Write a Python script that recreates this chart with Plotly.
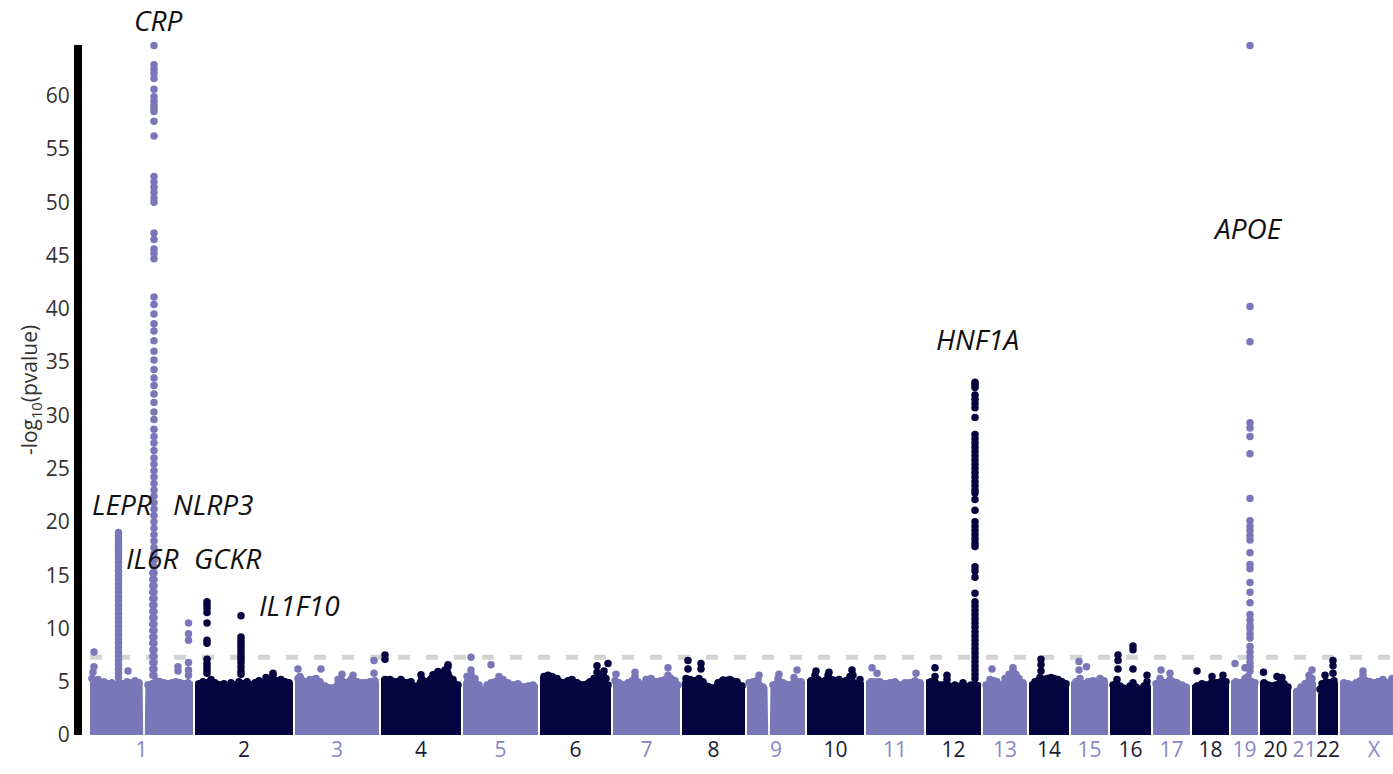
import plotly.graph_objects as go

# ---------------- data ----------------
chrom_names = ["1", "2", "3", "4", "5", "6", "7", "8", "9", "10", "11", "12",
               "13", "14", "15", "16", "17", "18", "19", "20", "21", "22", "X"]
# chromosome spans on the cumulative position axis (units)
chrom_size = [103, 98, 84, 80, 75, 71, 67, 63, 58, 57, 58, 55,
              44, 40, 37, 41, 37, 37, 27, 31, 23, 20, 68]
chrom_gap = 2

# upper envelope of the dense background SNP cloud (-log10 p), per chromosome
profile_pos = [
    [0, 2, 5, 8, 11, 14, 18, 22, 26, 29, 33, 37, 41, 45, 49, 52.6, 53.2, 54.8, 55.4, 58, 62, 66, 70, 74, 78, 82, 86, 90, 94, 98, 103],
    [0, 4, 8, 12, 16, 20, 25, 29, 32, 36, 40, 44, 48, 52, 56, 60, 64, 68, 71, 74, 78, 82, 86, 90, 94, 98],
    [0, 3, 5, 11, 15, 21, 25, 30, 38, 43, 47, 50, 56, 58, 62, 70, 75, 80, 84],
    [0, 4, 9, 15, 20, 25, 30, 35, 40, 45, 52, 57, 62, 67, 72, 77, 80],
    [0, 4, 8, 12, 16, 20, 24, 28, 32, 36, 40, 45, 50, 55, 60, 65, 70, 75],
    [0, 4, 8, 12, 17, 23, 28, 32, 37, 43, 50, 54, 57, 60, 63, 66, 68, 71],
    [0, 2, 6, 9, 15, 19, 22, 25, 28, 33, 38, 43, 48, 52, 55, 58, 62, 65, 67],
    [0, 4, 8, 12, 17, 21, 26, 31, 36, 41, 48, 55, 60, 63],
    [0, 2, 6, 11, 16, 20.5, 21.2, 22.8, 23.5, 26, 31, 36, 43, 47, 50, 54, 58],
    [0, 4, 8, 11, 14, 18, 21, 25, 28, 32, 35, 39, 43, 46, 49, 53, 57],
    [0, 5, 10, 14, 19, 24, 29, 34, 39, 44, 49, 54, 58],
    [0, 5, 9, 13, 17, 21, 25, 29, 33, 37, 41, 45, 50, 55],
    [0, 3, 7, 11, 14, 17, 22, 26, 30, 33, 36, 40, 44],
    [0, 6, 11, 15, 18, 22, 25, 29, 33, 37, 40],
    [0, 5, 9, 12, 17, 22, 26, 29, 33, 37],
    [0, 3, 7, 10, 13, 17, 20, 23, 26, 30, 34, 37, 41],
    [0, 3, 7, 12, 17, 20, 24, 29, 33, 37],
    [0, 5, 10, 15, 20, 25, 30, 34, 37],
    [0, 5, 10, 14, 17, 21, 24, 27],
    [0, 4, 8, 12, 16, 20, 24, 28, 31],
    [0, 4, 8, 12, 16, 19, 23],
    [0, 2, 4, 8, 12, 16, 20],
    [0, 4, 8, 12, 16, 20, 23, 26, 30, 34, 38, 43, 48, 52, 56, 60, 64, 68],
]
profile_top = [
    [5.3, 5.6, 5.2, 5.5, 5.2, 5.3, 5.1, 5.2, 5.0, 5.2, 5.1, 5.3, 5.2, 5.4, 5.2, 5.0, 0, 0, 5.0, 5.0, 5.1, 5.4, 5.3, 5.2, 5.1, 5.2, 5.3, 5.2, 5.1, 5.2, 5.0],
    [5.0, 5.1, 5.3, 5.2, 5.5, 5.2, 5.0, 5.1, 4.7, 5.2, 5.0, 5.3, 5.1, 5.3, 5.0, 5.2, 5.4, 5.2, 5.7, 5.5, 5.9, 5.4, 5.5, 5.3, 5.2, 4.9],
    [5.3, 5.6, 5.8, 5.3, 5.5, 5.6, 5.3, 4.9, 4.7, 5.5, 5.4, 5.2, 5.5, 5.9, 5.3, 5.2, 5.3, 5.4, 5.0],
    [5.3, 5.5, 5.5, 5.3, 5.5, 5.2, 5.3, 4.85, 5.95, 5.3, 5.95, 6.25, 6.1, 6.7, 5.5, 5.0, 4.7],
    [4.9, 5.8, 6.0, 5.6, 5.0, 4.5, 5.0, 5.2, 5.3, 5.8, 5.5, 5.2, 5.0, 5.1, 4.8, 4.9, 5.0, 4.7],
    [5.5, 5.8, 5.9, 5.8, 5.6, 5.2, 5.4, 5.5, 5.2, 5.0, 5.3, 5.6, 6.2, 5.7, 6.0, 5.6, 5.0, 4.8],
    [5.0, 5.4, 5.2, 5.0, 5.2, 5.4, 5.8, 5.3, 5.0, 5.5, 5.6, 5.3, 5.4, 5.5, 5.9, 5.6, 5.4, 5.0, 4.8],
    [5.0, 5.6, 5.5, 5.4, 5.6, 5.3, 4.85, 4.7, 5.2, 5.45, 5.5, 5.3, 4.9, 4.7],
    [4.9, 5.2, 5.3, 5.5, 4.8, 4.5, 0, 0, 4.8, 5.0, 5.6, 5.2, 5.0, 5.7, 5.3, 5.3, 5.0],
    [5.2, 5.4, 5.9, 5.5, 5.3, 5.4, 5.9, 5.5, 5.4, 5.5, 5.3, 5.4, 5.8, 5.9, 5.1, 5.5, 4.9],
    [5.1, 5.3, 5.3, 5.3, 5.1, 5.2, 5.3, 5.0, 5.2, 5.2, 5.4, 5.2, 5.0],
    [5.2, 5.3, 5.8, 5.0, 5.0, 5.5, 4.85, 5.0, 4.85, 5.2, 4.85, 5.0, 5.0, 4.9],
    [4.9, 5.0, 5.5, 5.4, 5.3, 4.9, 5.6, 6.0, 6.4, 6.0, 5.6, 5.2, 4.9],
    [4.9, 5.3, 5.7, 5.5, 5.6, 5.7, 5.6, 5.5, 5.3, 5.1, 4.8],
    [5.0, 5.3, 5.6, 5.1, 5.3, 5.4, 5.3, 5.6, 5.4, 5.0],
    [4.7, 5.0, 5.5, 4.9, 4.7, 4.6, 4.9, 5.2, 4.8, 4.6, 4.9, 5.3, 4.6],
    [4.9, 5.1, 5.6, 5.2, 5.5, 5.3, 5.2, 5.0, 4.8, 4.6],
    [4.7, 4.9, 5.1, 5.0, 5.3, 5.2, 5.4, 5.3, 5.0],
    [5.1, 5.3, 5.2, 5.6, 5.8, 5.3, 5.2, 5.0],
    [5.0, 5.2, 5.0, 4.9, 5.0, 5.2, 5.1, 4.8, 4.5],
    [4.2, 4.4, 4.8, 5.1, 5.4, 5.6, 4.9],
    [3.8, 4.6, 5.1, 5.3, 5.2, 5.4, 4.9],
    [5.1, 5.2, 5.1, 5.0, 5.2, 5.4, 5.9, 5.4, 5.3, 5.2, 5.3, 5.5, 5.2, 5.6, 5.3, 5.2, 5.3, 5.0],
]

# isolated SNPs sticking out of the cloud
snp_chr = ["1", "1", "1", "1", "1", "1", "2", "3", "3", "3", "3", "3",
           "4", "4", "4", "4", "5", "5", "5", "6", "6", "6", "7", "7", "7",
           "8", "8", "8", "8", "9", "9", "9", "10", "10", "10", "11", "11", "11",
           "12", "12", "13", "13", "14", "14", "14", "15", "15", "15",
           "16", "16", "16", "16", "16", "16", "16", "17", "17", "18", "18", "18",
           "19", "19", "20", "20", "20", "21", "21", "22", "22", "22", "22", "X"]
snp_pos = [4, 4, 3, 38, 88, 88, 78, 3, 26, 47, 79, 79,
           4, 4, 67, 64, 8, 28, 8, 57, 68, 64, 55, 22, 3,
           6, 6, 19, 19, 12, 50, 32, 9, 22, 45, 6, 11, 50,
           9, 21, 9, 30, 12, 12, 12, 8, 8, 15.5,
           8, 8, 8, 23, 23, 23, 37, 8, 17, 5, 20, 31,
           4, 14, 3.5, 17, 22, 19, 16, 15, 15, 15, 7, 23]
snp_val = [7.8, 6.4, 5.9, 6.0, 6.4, 6.0, 5.8, 6.2, 6.2, 5.7, 7.0, 5.8,
           7.5, 7.1, 6.6, 6.1, 7.3, 6.6, 6.1, 6.5, 6.7, 6.0, 6.3, 5.9, 5.7,
           7.0, 6.2, 6.7, 6.2, 5.6, 6.1, 5.7, 6.0, 5.9, 6.1, 6.3, 5.8, 5.8,
           6.3, 5.6, 6.2, 6.3, 7.1, 6.6, 6.0, 6.9, 6.1, 6.4,
           7.5, 7.0, 6.2, 8.35, 8.0, 6.2, 5.6, 6.1, 5.8, 6.0, 5.5, 5.6,
           6.7, 6.3, 5.9, 5.5, 5.4, 6.1, 5.6, 7.0, 6.5, 5.8, 5.6, 6.0]

# association peaks (columns of SNPs at a locus)
peak_gene = ["LEPR", "CRP", "IL6R", "NLRP3", "GCKR", "IL1F10", "HNF1A", "APOE"]
peak_chr = ["1", "1", "1", "1", "2", "2", "12", "19"]
peak_pos = [28.5, 64, 62.8, 98.5, 12, 46, 49, 19]
peak_vals = [
    [19.0, 18.7, 18.4, 18.1, 17.8, 17.5, 17.2, 16.9, 16.6, 16.2, 15.8, 15.4, 15.0, 14.6, 14.2, 13.8,
     13.4, 13.0, 12.6, 12.2, 11.8, 11.4, 11.0, 10.6, 10.2, 9.8, 9.4, 9.0, 8.6, 8.2, 7.8, 7.4, 7.0,
     6.6, 6.2, 5.8, 5.4],
    [64.7, 62.9, 62.5, 62.1, 61.6, 60.6, 59.9, 59.5, 59.1, 58.8, 58.5, 57.6, 56.2, 52.4, 51.9, 51.4,
     50.9, 50.4, 50.0, 47.1, 46.5, 45.6, 45.2, 44.7, 41.1, 40.4, 39.5, 38.6, 37.9, 37.0, 36.0, 35.2,
     34.3, 33.5, 32.8, 32.0, 31.2, 30.3, 29.6, 28.7, 28.0, 27.4, 26.7, 26.0, 25.4, 24.8, 24.2, 23.6,
     23.0, 22.4, 21.8, 21.2, 20.6, 20.0, 19.4, 18.8, 18.2, 17.6, 17.0, 16.4, 15.8, 15.2, 14.6, 14.0,
     13.4, 12.8, 12.2, 11.6, 11.0, 10.4, 9.8, 9.2, 8.6, 8.0, 7.4, 6.8, 6.2, 5.6],
    [15.2, 14.6, 14.0, 13.4, 12.8, 12.2, 11.6, 11.0, 10.4, 9.8, 9.2, 8.6, 8.0, 7.4, 6.8, 6.2, 5.6],
    [10.5, 9.5, 8.9, 6.8, 6.1, 5.6],
    [12.5, 12.2, 11.9, 11.5, 10.5, 8.9, 8.6, 7.1, 6.7, 6.4, 6.1, 5.8],
    [11.2, 9.2, 8.9, 8.6, 8.3, 8.0, 7.7, 7.4, 7.1, 6.8, 6.4, 6.0, 5.7],
    [33.1, 32.9, 32.6, 31.9, 31.5, 31.1, 30.7, 29.8, 28.2, 27.8, 27.4, 27.0, 26.6, 26.2, 25.8, 25.4,
     25.0, 24.6, 24.2, 23.8, 23.4, 23.0, 22.7, 22.1, 21.1, 20.0, 19.6, 19.2, 18.8, 18.4, 18.0, 17.7,
     15.8, 15.4, 14.8, 13.3, 12.5, 12.1, 11.7, 11.3, 10.9, 10.5, 10.1, 9.7, 9.3, 8.9, 8.5, 8.1, 7.7,
     7.3, 6.9, 6.5, 6.1, 5.7, 5.3],
    [64.7, 40.2, 36.9, 29.3, 28.8, 28.0, 26.4, 22.2, 20.1, 19.6, 19.2, 18.7, 18.3, 17.1, 16.0, 15.6,
     14.3, 13.4, 12.4, 11.3, 10.8, 10.3, 10.0, 9.5, 9.1, 8.3, 7.8, 7.3, 6.8, 6.4, 6.0],
]

significance = 7.3  # -log10(5e-8)

# ---------------- styling ----------------
LIGHT = "#7a77b8"
DARK = "#05043f"
LIGHT_TXT = "#8886c6"
DARK_TXT = "#1a1a33"
MS = 7.5

offset = {}
acc = 0
for name, size in zip(chrom_names, chrom_size):
    offset[name] = acc
    acc += size + chrom_gap

def chrom_color(name):
    return LIGHT if chrom_names.index(name) % 2 == 0 else DARK

fig = go.Figure()

# dense background cloud: filled envelope plus the SNP dots on its rim
rim = {LIGHT: ([], []), DARK: ([], [])}
for name, pos, top in zip(chrom_names, profile_pos, profile_top):
    col = chrom_color(name)
    fig.add_trace(go.Scatter(
        x=[offset[name] + p for p in pos], y=top,
        mode="lines", fill="tozeroy", fillcolor=col,
        line=dict(width=0, color=col), hoverinfo="skip", showlegend=False))
    xs, ys = rim[col]
    for k in range(1, len(pos) - 1):
        if top[k] > 0 and top[k - 1] > 0 and top[k + 1] > 0:
            xs.append(offset[name] + pos[k])
            ys.append(top[k] - 0.3)
for col, (xs, ys) in rim.items():
    fig.add_trace(go.Scatter(
        x=xs, y=ys, mode="markers",
        marker=dict(size=MS, color=col, line=dict(width=0)),
        hoverinfo="skip", showlegend=False))

# points
pts = {LIGHT: ([], []), DARK: ([], [])}
for c, p, v in zip(snp_chr, snp_pos, snp_val):
    xs, ys = pts[chrom_color(c)]
    xs.append(offset[c] + p)
    ys.append(v)
for c, p, vals in zip(peak_chr, peak_pos, peak_vals):
    xs, ys = pts[chrom_color(c)]
    for v in vals:
        xs.append(offset[c] + p)
        ys.append(v)
for col, (xs, ys) in pts.items():
    fig.add_trace(go.Scatter(
        x=xs, y=ys, mode="markers",
        marker=dict(size=MS, color=col, line=dict(width=0)),
        cliponaxis=False, hoverinfo="skip", showlegend=False))

# genome-wide significance line
x_left = -8
x_right = x_left + 1311
fig.add_shape(type="line", xref="x", yref="y",
              x0=offset["1"], x1=x_right, y0=significance, y1=significance,
              line=dict(color="#d4d4d4", width=5, dash="12px,16px"), layer="below")

# gene labels (text placement: data x, data y, extra vertical pixel shift)
label_pos = {
    "CRP": (68, 64.7, 26), "LEPR": (32, 21.7, 0), "IL6R": (62, 16.6, 0), "NLRP3": (123, 21.7, 0),
    "GCKR": (137, 16.6, 0), "IL1F10": (209, 12.2, 0), "HNF1A": (887, 37.2, 0), "APOE": (1158, 47.6, 0),
}
for g in peak_gene:
    lx, ly, sh = label_pos[g]
    fig.add_annotation(x=lx, y=ly, yshift=sh, xref="x", yref="y", text="<i>" + g + "</i>",
                       showarrow=False, xanchor="center", yanchor="middle",
                       font=dict(family="Open Sans", size=28, color="#111111"))

tick_vals = [offset[n] + s / 2 for n, s in zip(chrom_names, chrom_size)]
tick_text = ['<span style="color:%s">%s</span>' %
             (LIGHT_TXT if chrom_color(n) == LIGHT else DARK_TXT, n) for n in chrom_names]

fig.update_layout(
    width=1393, height=774,
    margin=dict(l=82, r=0, t=45, b=39),
    paper_bgcolor="white", plot_bgcolor="white",
    font=dict(family="Open Sans", color="#333333"),
    xaxis=dict(range=[x_left, x_right], tickmode="array", tickvals=tick_vals, ticktext=tick_text,
               showgrid=False, zeroline=False, showline=False, ticks="", tickangle=0,
               tickfont=dict(size=21)),
    yaxis=dict(range=[0, 64.75], tickmode="array", tickvals=list(range(0, 61, 5)),
               showgrid=False, zeroline=False, showline=True, linecolor="black", linewidth=8,
               ticks="", tickfont=dict(size=21, color="#333333"),
               title=dict(text="-log<sub>10</sub>(pvalue)", font=dict(size=21, color="#333333"),
                          standoff=4)),
)

fig.write_html("out.html")
